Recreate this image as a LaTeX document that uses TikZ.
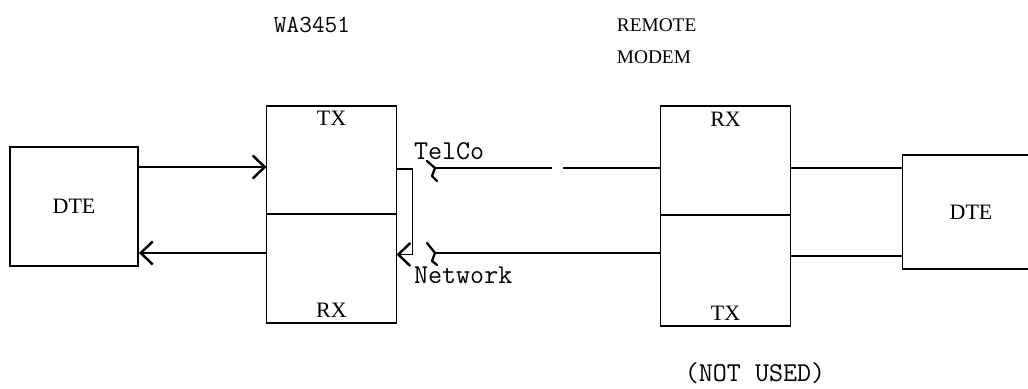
\documentclass[tikz,border=0pt]{standalone}
\usepackage{fontspec}
\setmainfont{Liberation Serif}
\usetikzlibrary{arrows.meta, positioning}

\begin{document}
\begin{tikzpicture}[
  box/.style={draw, line width=1.1pt, font=\fontsize{12.5}{14}\selectfont},
  half/.style={draw, line width=1.1pt, outer sep=0pt, minimum width=2.6cm, minimum height=2.17cm},
  tag/.style={font=\fontsize{12.5}{14}\selectfont, inner sep=2pt},
  tt/.style={font=\ttfamily\fontsize{15.5}{17}\selectfont, inner sep=1pt},
  wire/.style={line width=1.1pt},
  arr/.style={-{Straight Barb[length=2.4mm, width=4.6mm, line width=1.4pt]}, line width=1.1pt},
  brk/.style={line width=1.3pt, line join=round, line cap=round},
]
  \useasboundingbox (0,0) rectangle (20.56,7.76);

  % Terminals
  \node[box, minimum width=2.56cm, minimum height=2.38cm] (dteL) at (1.48,3.63) {DTE};
  \node[box, minimum width=2.74cm, minimum height=2.28cm] (dteR) at (19.42,3.52) {DTE};

  % Local modem
  \node[half] (wtx) at (6.63,4.56) {};
  \node[half, below=0pt of wtx] (wrx) {};
  \node[tag, below=1pt of wtx.north] {TX};
  \node[tag, above=1pt of wrx.south] {RX};
  \node[tt, font=\ttfamily\fontsize{14}{16}\selectfont] (wa) at (6.24,7.26) {WA3451};

  % Remote modem
  \node[half] (rrx) at (14.51,4.55) {};
  \node[half, below=0pt of rrx, minimum height=2.22cm] (rtx) {};
  \node[tag, below=1pt of rrx.north] {RX};
  \node[tag, above=1pt of rtx.south] {TX};
  \node[tag, align=left, anchor=west, font=\fontsize{11}{18}\selectfont]
    (remote) at (12.26,6.94) {REMOTE\\MODEM};
  \node[tt] (unused) at (15.10,0.30) {(NOT USED)};

  % DTE <-> WA3451
  \coordinate (txin) at ([yshift=7.9mm]dteL.east);
  \coordinate (rxout) at ([yshift=-9.3mm]dteL.east);
  \draw[arr] (txin) -- (txin -| wtx.west);
  \draw[arr] (rxout -| wrx.west) -- (rxout);

  % Loopback
  \coordinate (lpa) at ([yshift=-1.8mm]wtx.east);
  \coordinate (lpb) at ([yshift=2.8mm]wrx.east);
  \draw[arr] (lpa) -- ++(0.32,0) |- (lpb);

  % Line side
  \coordinate (tj) at (8.70,4.40);
  \coordinate (nj) at (8.70,2.70);
  \coordinate (gapa) at (11.04,4.40);
  \coordinate (gapb) at (11.26,4.40);
  \draw[wire] (tj) -- (gapa);
  \draw[wire] (gapb) -- (gapb -| rrx.west);
  \draw[wire] (nj) -- (nj -| rtx.west);
  \node[tt, anchor=south west] (telco) at (8.24,4.52) {TelCo};
  \node[tt, anchor=north west] (network) at (8.24,2.46) {Network};

  % break marks
  \draw[brk] (tj) -- ++(-0.16,0.14) (tj) -- ++(-0.06,-0.16) -- ++(0.10,-0.10);
  \draw[brk] (nj) -- ++(-0.16,0.20) (nj) -- ++(-0.06,-0.16) -- ++(0.10,-0.08);

  % Remote modem <-> DTE
  \coordinate (rb) at (17,2.64);
  \draw[wire] (tj -| rrx.east) -- (tj -| dteR.west);
  \draw[wire] (rb -| rtx.east) -- (rb -| dteR.west);

\end{tikzpicture}
\end{document}
